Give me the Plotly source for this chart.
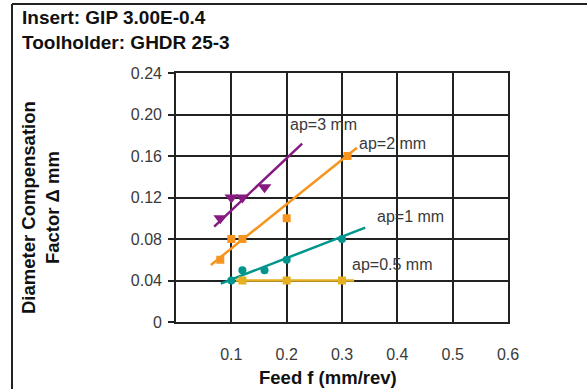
import plotly.graph_objects as go

# Measured diameter compensation vs feed for the GIP 3.00E-0.4 insert
feed_ap3 = [0.08, 0.10, 0.12, 0.16]
comp_ap3 = [0.10, 0.12, 0.12, 0.13]
fit_feed_ap3 = [0.069, 0.228]
fit_comp_ap3 = [0.092, 0.172]

feed_ap2 = [0.08, 0.10, 0.12, 0.20, 0.31]
comp_ap2 = [0.06, 0.08, 0.08, 0.10, 0.16]
fit_feed_ap2 = [0.063, 0.327]
fit_comp_ap2 = [0.055, 0.168]

feed_ap1 = [0.10, 0.12, 0.16, 0.20, 0.30]
comp_ap1 = [0.04, 0.05, 0.05, 0.06, 0.08]
fit_feed_ap1 = [0.081, 0.342]
fit_comp_ap1 = [0.037, 0.091]

feed_ap05 = [0.12, 0.20, 0.30]
comp_ap05 = [0.04, 0.04, 0.04]
fit_feed_ap05 = [0.108, 0.322]
fit_comp_ap05 = [0.04, 0.04]

x_ticks = [0.1, 0.2, 0.3, 0.4, 0.5, 0.6]
x_tick_text = ["0.1", "0.2", "0.3", "0.4", "0.5", "0.6"]
y_ticks = [0, 0.04, 0.08, 0.12, 0.16, 0.20, 0.24]
y_tick_text = ["0", "0.04", "0.08", "0.12", "0.16", "0.20", "0.24"]

PURPLE = "#861A80"
ORANGE = "#F7941E"
TEAL = "#00958D"
GOLD = "#E5B022"
INK = "#222222"
TEXT = "#3a3a3a"
FONT = "Liberation Sans, Arial, sans-serif"

W, H = 587, 389
L, R, T, B = 176, 508, 73, 322


def px(x):
    return (x - L) / (R - L)


def py(y):
    return (B - y) / (B - T)


fig = go.Figure()

series = [
    (fit_feed_ap3, fit_comp_ap3, feed_ap3, comp_ap3, PURPLE, "triangle-down", 12),
    (fit_feed_ap2, fit_comp_ap2, feed_ap2, comp_ap2, ORANGE, "square", 8),
    (fit_feed_ap1, fit_comp_ap1, feed_ap1, comp_ap1, TEAL, "circle", 8),
    (fit_feed_ap05, fit_comp_ap05, feed_ap05, comp_ap05, GOLD, "square", 8),
]
for fx, fy, mx, my, col, sym, size in series:
    fig.add_trace(go.Scatter(x=fx, y=fy, mode="lines",
                             line=dict(color=col, width=2.5),
                             showlegend=False, hoverinfo="skip"))
    fig.add_trace(go.Scatter(x=mx, y=my, mode="markers",
                             marker=dict(color=col, symbol=sym, size=size,
                                         line=dict(width=0)),
                             showlegend=False))

# Curve labels
for text, x, y in [("ap=3 mm", 0.2017, 0.190), ("ap=2 mm", 0.328, 0.1725),
                   ("ap=1 mm", 0.3604, 0.102), ("ap=0.5 mm", 0.3146, 0.055)]:
    fig.add_annotation(x=x, y=y, text=text, showarrow=False, xanchor="left",
                       yanchor="middle", font=dict(family=FONT, size=16, color=TEXT))

# Header lines
for text, y in [("Insert: GIP 3.00E-0.4", 17), ("Toolholder: GHDR 25-3", 42)]:
    fig.add_annotation(xref="paper", yref="paper", x=px(20), y=py(y), text="<b>%s</b>" % text,
                       showarrow=False, xanchor="left", yanchor="middle",
                       font=dict(family=FONT, size=19, color="#111111"))

# Axis titles
fig.add_annotation(xref="paper", yref="paper", x=px(328), y=py(377),
                   text="<b>Feed f (mm/rev)</b>", showarrow=False,
                   xanchor="center", yanchor="middle",
                   font=dict(family=FONT, size=18.5, color="#111111"))
fig.add_annotation(xref="paper", yref="paper", x=px(40), y=py(208),
                   text="<b>Diameter Compensation<br>Factor Δ mm</b>", showarrow=False,
                   textangle=-90, xanchor="center", yanchor="middle",
                   font=dict(family=FONT, size=18.5, color="#111111"))

# Outer frame (top and left edges)
fig.add_shape(type="line", xref="paper", yref="paper", x0=px(12), y0=py(4),
              x1=px(600), y1=py(4), line=dict(color=INK, width=2))
fig.add_shape(type="line", xref="paper", yref="paper", x0=px(12), y0=py(4),
              x1=px(12), y1=py(400), line=dict(color=INK, width=2))

fig.update_xaxes(range=[0, 0.6], tickvals=x_ticks, ticktext=x_tick_text,
                 showgrid=True, gridcolor=INK, gridwidth=1.6,
                 showline=True, linecolor=INK, linewidth=1.6, mirror=True,
                 zeroline=False, ticks="", ticklabelstandoff=17,
                 tickfont=dict(family=FONT, size=16, color=TEXT))
fig.update_yaxes(range=[0, 0.24], tickvals=y_ticks, ticktext=y_tick_text,
                 showgrid=True, gridcolor=INK, gridwidth=1.6,
                 showline=True, linecolor=INK, linewidth=1.6, mirror=True,
                 zeroline=False, ticks="outside", ticklen=6, tickwidth=1.5,
                 tickcolor=INK, ticklabelstandoff=3,
                 tickfont=dict(family=FONT, size=16, color=TEXT))

fig.update_layout(width=W, height=H, autosize=False,
                  margin=dict(l=L, r=W - R, t=T, b=H - B),
                  plot_bgcolor="white", paper_bgcolor="white",
                  showlegend=False)

fig.write_html("out.html", config={"displayModeBar": False})
